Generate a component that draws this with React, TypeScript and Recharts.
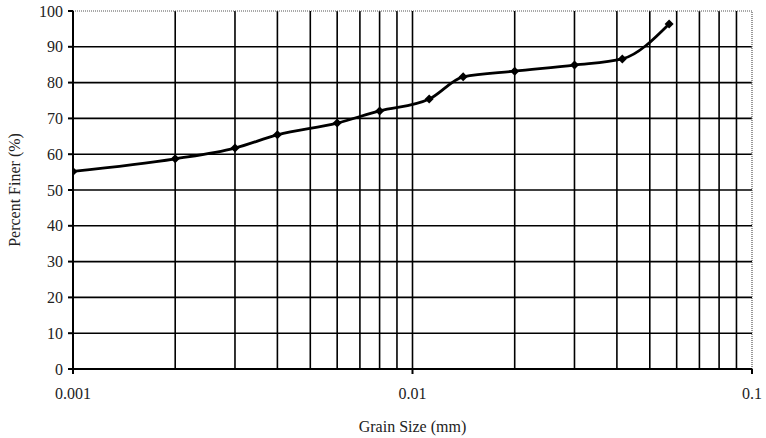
import React from 'react'
import { LineChart, Line, XAxis, YAxis, ReferenceLine, Label } from 'recharts'

const grainSize = [0.001, 0.002, 0.003, 0.004, 0.006, 0.008, 0.0112, 0.0141, 0.02, 0.03, 0.0415, 0.057]
const percentFiner = [55.2, 58.7, 61.7, 65.4, 68.7, 72.1, 75.4, 81.6, 83.2, 84.9, 86.6, 96.4]

const xTicks = [0.001, 0.01, 0.1]
const yTicks = [0, 10, 20, 30, 40, 50, 60, 70, 80, 90, 100]
const xGrid = [0.002, 0.003, 0.004, 0.005, 0.006, 0.007, 0.008, 0.009, 0.01, 0.02, 0.03, 0.04, 0.05, 0.06, 0.07, 0.08, 0.09]
const yGrid = [10, 20, 30, 40, 50, 60, 70, 80, 90]

const data = grainSize.map((g, i) => ({ size: g, finer: percentFiner[i] }))

const font = { fontFamily: '"Liberation Serif", "DejaVu Serif", serif', fontSize: 16, fill: '#222' }

function Diamond(props: any) {
  const { cx, cy } = props
  if (cx == null || cy == null) return null
  const r = 4.5
  return <path d={`M${cx},${cy - r}L${cx + r},${cy}L${cx},${cy + r}L${cx - r},${cy}Z`} fill="#000" />
}

export default function App() {
  return (
    <div style={{ width: 766, height: 438, background: '#fff' }}>
      <style>{'body{margin:0}'}</style>
      <LineChart width={766} height={438} data={data} margin={{ top: 11, right: 14, left: 0, bottom: 0 }}>
        <XAxis
          dataKey="size"
          type="number"
          scale="log"
          domain={[0.001, 0.1]}
          ticks={xTicks}
          allowDataOverflow
          height={69}
          stroke="#000"
          strokeWidth={2}
          tickSize={5}
          tickMargin={14}
          tick={font}
          tickFormatter={(v: number) => String(v)}
        >
          <Label value="Grain Size (mm)" position="insideBottom" offset={6} style={font} />
        </XAxis>
        <YAxis
          type="number"
          domain={[0, 100]}
          ticks={yTicks}
          width={73}
          stroke="#000"
          strokeWidth={2}
          tickSize={5}
          tickMargin={5}
          tick={font}
        >
          <Label value="Percent Finer (%)" angle={-90} position="insideLeft" offset={14} style={{ ...font, textAnchor: 'middle' }} />
        </YAxis>
        {yGrid.map((v) => (
          <ReferenceLine key={'h' + v} y={v} stroke="#000" strokeWidth={1.6} />
        ))}
        {xGrid.map((v) => (
          <ReferenceLine key={'v' + v} x={v} stroke="#000" strokeWidth={1.6} />
        ))}
        <ReferenceLine y={100} stroke="#555" strokeWidth={1.2} strokeDasharray="1 1" />
        <ReferenceLine x={0.1} stroke="#555" strokeWidth={1.2} strokeDasharray="1 1" />
        <Line
          dataKey="finer"
          type="monotone"
          stroke="#000"
          strokeWidth={2.8}
          dot={<Diamond />}
          activeDot={false}
          isAnimationActive={false}
        />
      </LineChart>
    </div>
  )
}
